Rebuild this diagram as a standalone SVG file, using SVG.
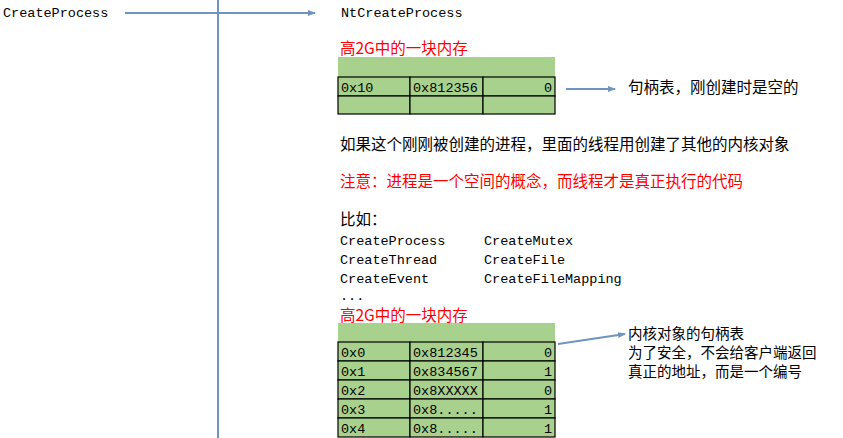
<svg xmlns="http://www.w3.org/2000/svg" width="843" height="438" viewBox="0 0 843 438">
<style>
.m{font-family:"Liberation Mono","DejaVu Sans Mono",monospace;font-size:13.5px;fill:#000}
.c{font-family:"Noto Sans CJK SC",sans-serif;font-size:15.5px;fill:#000}
.n{font-size:14.5px}
.r{fill:#ff0000}
.g{fill:#a9d18e}
.cell{fill:#a9d18e;stroke:#000;stroke-width:1.2}
.ln{stroke:#7094c0;stroke-width:2;fill:none}
</style>
<defs><marker id="a" markerWidth="8" markerHeight="8" refX="7" refY="4" orient="auto" markerUnits="userSpaceOnUse"><path d="M0,1 L8,4 L0,7 Z" fill="#7094c0"/></marker></defs>
<rect width="843" height="438" fill="#fff"/>
<g id="connectors">
<line class="ln" x1="218" y1="0" x2="218" y2="438"/>
<line class="ln" x1="125" y1="13" x2="315" y2="13" marker-end="url(#a)"/>
<line class="ln" x1="566" y1="89" x2="615" y2="89" marker-end="url(#a)"/>
<line class="ln" x1="558" y1="344" x2="625" y2="334" marker-end="url(#a)"/>
</g>
<g id="CreateProcess"><text class="m" x="3" y="17">CreateProcess</text></g>
<g id="NtCreateProcess"><text class="m" x="341" y="17">NtCreateProcess</text></g>
<g id="table1">
<text class="c r" x="340" y="54">高2G中的一块内存</text>
<rect class="g" x="338" y="57" width="217" height="20"/>
<rect class="cell" x="338" y="77" width="72" height="19"/><rect class="cell" x="410" y="77" width="73" height="19"/><rect class="cell" x="483" y="77" width="72" height="19"/>
<rect class="cell" x="338" y="96" width="72" height="18"/><rect class="cell" x="410" y="96" width="73" height="18"/><rect class="cell" x="483" y="96" width="72" height="18"/>
<text class="m" x="341" y="92">0x10</text><text class="m" x="413" y="92">0x812356</text><text class="m" x="552" y="92" text-anchor="end">0</text>
</g>
<g id="note1"><text class="c" x="628" y="93">句柄表，刚创建时是空的</text></g>
<g id="texts">
<text class="c" x="340" y="150">如果这个刚刚被创建的进程，里面的线程用创建了其他的内核对象</text>
<text class="c r" x="340" y="187">注意：进程是一个空间的概念，而线程才是真正执行的代码</text>
<text class="c" x="340" y="225">比如：</text>
<text class="m" x="340" y="245">CreateProcess</text><text class="m" x="484" y="245">CreateMutex</text>
<text class="m" x="340" y="264">CreateThread</text><text class="m" x="484" y="264">CreateFile</text>
<text class="m" x="340" y="283">CreateEvent</text><text class="m" x="484" y="283">CreateFileMapping</text>
<text class="m" x="340" y="300">...</text>
</g>
<g id="table2">
<text class="c r" x="340" y="321">高2G中的一块内存</text>
<rect class="g" x="338" y="323" width="217" height="19"/>
<g id="rows">
<rect class="cell" x="338" y="342" width="72" height="19"/><rect class="cell" x="410" y="342" width="73" height="19"/><rect class="cell" x="483" y="342" width="72" height="19"/>
<rect class="cell" x="338" y="361" width="72" height="19"/><rect class="cell" x="410" y="361" width="73" height="19"/><rect class="cell" x="483" y="361" width="72" height="19"/>
<rect class="cell" x="338" y="380" width="72" height="19"/><rect class="cell" x="410" y="380" width="73" height="19"/><rect class="cell" x="483" y="380" width="72" height="19"/>
<rect class="cell" x="338" y="399" width="72" height="19"/><rect class="cell" x="410" y="399" width="73" height="19"/><rect class="cell" x="483" y="399" width="72" height="19"/>
<rect class="cell" x="338" y="418" width="72" height="19"/><rect class="cell" x="410" y="418" width="73" height="19"/><rect class="cell" x="483" y="418" width="72" height="19"/>
</g>
<text class="m" x="341" y="357">0x0</text><text class="m" x="413" y="357">0x812345</text><text class="m" x="552" y="357" text-anchor="end">0</text>
<text class="m" x="341" y="376">0x1</text><text class="m" x="413" y="376">0x834567</text><text class="m" x="552" y="376" text-anchor="end">1</text>
<text class="m" x="341" y="395">0x2</text><text class="m" x="413" y="395">0x8XXXXX</text><text class="m" x="552" y="395" text-anchor="end">0</text>
<text class="m" x="341" y="414">0x3</text><text class="m" x="413" y="414">0x8.....</text><text class="m" x="552" y="414" text-anchor="end">1</text>
<text class="m" x="341" y="433">0x4</text><text class="m" x="413" y="433">0x8.....</text><text class="m" x="552" y="433" text-anchor="end">1</text>
</g>
<g id="note2">
<text class="c n" x="628" y="339">内核对象的句柄表</text>
<text class="c n" x="628" y="358">为了安全，不会给客户端返回</text>
<text class="c n" x="628" y="377">真正的地址，而是一个编号</text>
</g>
</svg>
